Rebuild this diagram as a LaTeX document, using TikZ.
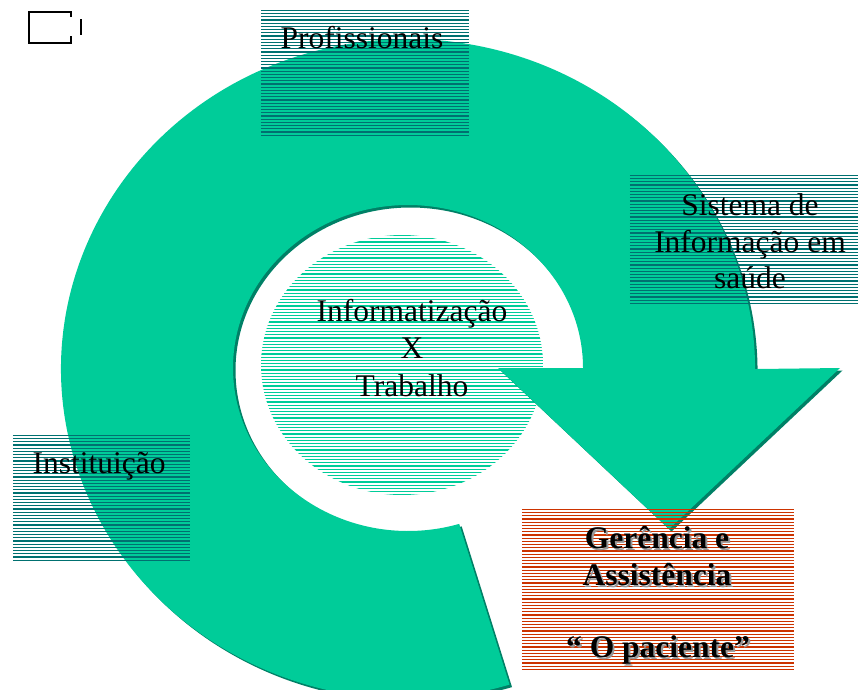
\documentclass[tikz,border=0pt]{standalone}
\usepackage{fontspec}
\setmainfont{Liberation Serif}
\definecolor{ringgreen}{RGB}{0,204,153}
\definecolor{ringshadow}{RGB}{0,128,102}
\definecolor{boxline}{RGB}{0,112,112}
\definecolor{redline}{RGB}{204,51,0}
\definecolor{txtshadow}{RGB}{150,150,150}
\newcommand\hatchlines[3]{%
  \foreach \k in {0,...,#3}{%
    \draw[#2, line width=1.1pt] ([yshift={-(0.6+\k*3.2)*1pt}]#1.north west) -- ([yshift={-(0.6+\k*3.2)*1pt}]#1.north east);}}
\newcommand\shadowtext[1]{\rlap{\kern2pt\raisebox{-2pt}{\color{txtshadow}#1}}#1}
\tikzset{
  ringpath/.style={insert path={(840,368) -- (669,529) -- (498,368) -- (583,368)
      arc[start angle=0,end angle=-287,x radius=175,y radius=163] -- (509.5,684.6)
      arc[start angle=-287,end angle=0,x radius=347,y radius=330] -- cycle}},
  hbox/.style={rectangle, draw=none, inner sep=0pt},
  lbl/.style={inner sep=0pt, anchor=base, font=\fontsize{31.5}{37}\selectfont},
  blbl/.style={lbl, font=\fontsize{31.5}{37}\selectfont\bfseries},
  icon/.style={line width=2pt, black}
}
\begin{document}
\begin{tikzpicture}[x=1pt,y=-1pt]
\useasboundingbox (0,0) rectangle (858,689);
\clip (0,0) rectangle (858,689);
% broken-image icon
\coordinate (ic1) at (71,17);
\coordinate (ic2) at (71,12);
\coordinate (ic3) at (29,12);
\coordinate (ic4) at (29,43);
\coordinate (ic5) at (71,43);
\coordinate (ic6) at (71,36);
\coordinate (ic7) at (81,19);
\coordinate (ic8) at (81,35);
\draw[icon] (ic1) -- (ic2) -- (ic3) -- (ic4) -- (ic5) -- (ic6);
\draw[icon] (ic7) -- (ic8);
% central hatched ellipse
\coordinate (core) at (402,365);
\begin{scope}
  \clip (core) ellipse [x radius=141, y radius=130];
  \foreach \k in {0,...,81}{\draw[ringgreen, line width=1.1pt] (260,{235.6+\k*3.2}) -- (545,{235.6+\k*3.2});}
\end{scope}
% ring arrow with shadow
\begin{scope}[shift={(2.5,2.5)}]
  \fill[ringshadow, ringpath];
\end{scope}
\fill[ringgreen, ringpath];
% hatched boxes
\node[hbox, minimum width=208, minimum height=128] (prof) at (365,74) {};
\node[hbox, minimum width=228, minimum height=132] (sis) at (744,241) {};
\node[hbox, minimum width=177, minimum height=127] (inst) at (101.5,498.5) {};
\node[hbox, minimum width=272, minimum height=164] (ger) at (658,591) {};
\hatchlines{prof}{boxline}{39}
\hatchlines{sis}{boxline}{40}
\hatchlines{inst}{boxline}{39}
\hatchlines{ger}{redline}{50}
% texts
\node[lbl] (tprof) at (362,48) {Profissionais};
\node[lbl] (tsis1) at (750,215) {Sistema de};
\node[lbl] (tsis2) at (750,252) {Informação em};
\node[lbl] (tsis3) at (750,288) {saúde};
\node[lbl] (tcore1) at (412,321) {Informatização};
\node[lbl] (tcore2) at (412,358) {X};
\node[lbl] (tcore3) at (412,396) {Trabalho};
\node[lbl] (tinst) at (99,473) {Instituição};
\node[blbl] (tger1) at (657,548) {\shadowtext{Gerência e}};
\node[blbl] (tger2) at (657,585) {\shadowtext{Assistência}};
\node[blbl] (tger3) at (658,657) {\shadowtext{“ O paciente”}};
\end{tikzpicture}
\end{document}
